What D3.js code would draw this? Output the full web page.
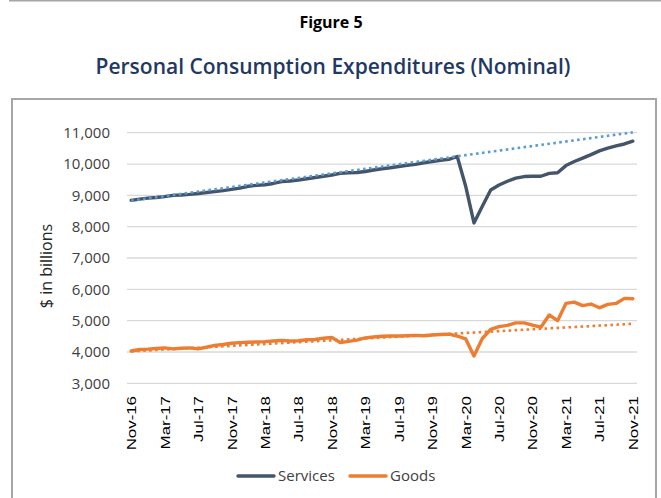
<!DOCTYPE html>
<html>
<head>
<meta charset="utf-8">
<script src="https://cdn.jsdelivr.net/npm/d3@7"></script>
<style>
  body { margin: 0; background: #fff; }
  svg { display: block; }
</style>
</head>
<body>
<svg id="chart" width="661" height="498"></svg>
<script>
(function(){
'use strict';

// monthly, Nov-16 .. Nov-21 ($ billions, SAAR)
var services = [
    8840, 8880, 8910, 8930, 8960, 9000, 9010, 9030, 9060, 9090, 9120, 9150,
    9190, 9230, 9290, 9320, 9340, 9380, 9440, 9460, 9490, 9530, 9570, 9610,
    9650, 9700, 9720, 9730, 9760, 9810, 9850, 9880, 9920, 9960, 9990, 10040,
    10080, 10120, 10150, 10240, 9300, 8120, 8650, 9170, 9330, 9450, 9550, 9600,
    9610, 9610, 9700, 9720, 9950, 10080, 10190, 10300, 10420, 10510, 10580, 10640,
    10730
];
var goods = [
    4030, 4080, 4090, 4110, 4130, 4100, 4120, 4130, 4100, 4150, 4210, 4240,
    4280, 4300, 4310, 4320, 4330, 4350, 4370, 4350, 4360, 4390, 4400, 4440,
    4460, 4300, 4340, 4380, 4450, 4480, 4500, 4510, 4510, 4520, 4530, 4520,
    4540, 4560, 4570, 4510, 4420, 3870, 4430, 4720, 4810, 4850, 4930, 4930,
    4860, 4790, 5180, 5000, 5550, 5590, 5480, 5530, 5410, 5520, 5550, 5710,
    5700
];
// linear trendlines (first month, last month)
var servicesTrend = [8830, 11010];
var goodsTrend = [4020, 4900];

var tickLabels = ['Nov-16', 'Mar-17', 'Jul-17', 'Nov-17', 'Mar-18', 'Jul-18', 'Nov-18', 'Mar-19',
    'Jul-19', 'Nov-19', 'Mar-20', 'Jul-20', 'Nov-20', 'Mar-21', 'Jul-21', 'Nov-21'];
var yTicks = [3000, 4000, 5000, 6000, 7000, 8000, 9000, 10000, 11000];

var months = d3.timeMonth.range(new Date(2016, 10, 1), new Date(2021, 11, 1))
    .map(d3.timeFormat('%b-%y'));

var svg = d3.select('#chart');
var font = '"Open Sans", "Noto Sans", sans-serif';

// page rule + chart frame
svg.append('line')
    .attr('x1', 9).attr('x2', 661).attr('y1', 0.5).attr('y2', 0.5)
    .attr('stroke', '#a6a6a6').attr('stroke-width', 2);
svg.append('rect')
    .attr('x', 12).attr('y', 99).attr('width', 644).attr('height', 420)
    .attr('fill', 'none').attr('stroke', '#a6a6a6').attr('stroke-width', 2);

svg.append('text')
    .attr('x', 331).attr('y', 28)
    .attr('text-anchor', 'middle')
    .attr('font-family', font).attr('font-weight', 700).attr('font-size', 16)
    .attr('fill', '#000')
    .text('Figure 5');
svg.append('text')
    .attr('x', 333).attr('y', 74)
    .attr('text-anchor', 'middle')
    .attr('font-family', font).attr('font-weight', 600).attr('font-size', 21)
    .attr('fill', '#1f3864')
    .text('Personal Consumption Expenditures (Nominal)');

var x = d3.scalePoint().domain(months).range([127, 637]).padding(0.5),
    y = d3.scaleLinear().domain([3000, 11000]).range([383.3, 132.7]);

// gridlines + y labels
var grid = svg.append('g').attr('class', 'grid');
grid.selectAll('line').data(yTicks).enter().append('line')
    .attr('x1', 127).attr('x2', 637)
    .attr('y1', function(d) { return y(d); })
    .attr('y2', function(d) { return y(d); })
    .attr('stroke', '#d9d9d9').attr('stroke-width', 1.3);
grid.selectAll('text').data(yTicks).enter().append('text')
    .attr('x', 110)
    .attr('y', function(d) { return y(d); })
    .attr('dy', '0.35em')
    .attr('text-anchor', 'end')
    .attr('font-family', font).attr('font-size', 15)
    .attr('fill', '#404040')
    .text(d3.format(','));

svg.append('text')
    .attr('transform', 'translate(52,266) rotate(-90)')
    .attr('text-anchor', 'middle')
    .attr('font-family', font).attr('font-size', 16)
    .attr('fill', '#262626')
    .text('$ in billions');

// x labels
svg.append('g').selectAll('text').data(tickLabels).enter().append('text')
    .attr('transform', function(d) { return 'translate(' + (x(d) + 5) + ',396) rotate(-90) scale(1.25,1)'; })
    .attr('text-anchor', 'end')
    .attr('font-family', '"Liberation Sans", Arial, sans-serif').attr('font-size', 13.5)
    .attr('fill', '#000')
    .text(function(d) { return d; });

var line = d3.line()
    .x(function(d, i) { return x(months[i]); })
    .y(function(d) { return y(d); });

var series = [
    {name: 'Services', values: services, color: '#44546a', trend: servicesTrend, trendColor: '#5b9bd5'},
    {name: 'Goods', values: goods, color: '#ed7d31', trend: goodsTrend, trendColor: '#ed7d31'}
];

series.forEach(function(s) {
    svg.append('path')
        .datum(s.values)
        .attr('d', line)
        .attr('fill', 'none')
        .attr('stroke', s.color)
        .attr('stroke-width', 3.4)
        .attr('stroke-linejoin', 'round')
        .attr('stroke-linecap', 'round');
});

series.forEach(function(s) {
    svg.append('line')
        .attr('x1', x(months[0])).attr('y1', y(s.trend[0]))
        .attr('x2', x(months[months.length - 1])).attr('y2', y(s.trend[1]))
        .attr('stroke', s.trendColor)
        .attr('stroke-width', 2.6)
        .attr('stroke-dasharray', '2.6,3.4');
});

// legend
var legend = svg.append('g').selectAll('g').data(series).enter().append('g')
    .attr('transform', function(d, i) { return 'translate(' + (238 + i * 112) + ',476)'; });
legend.append('line')
    .attr('x1', 0).attr('x2', 36)
    .attr('stroke', function(d) { return d.color; })
    .attr('stroke-width', 3.4).attr('stroke-linecap', 'round');
legend.append('text')
    .attr('x', 40).attr('dy', '0.35em')
    .attr('font-family', font).attr('font-size', 15)
    .attr('fill', '#404040')
    .text(function(d) { return d.name; });

})();
</script>
</body>
</html>
